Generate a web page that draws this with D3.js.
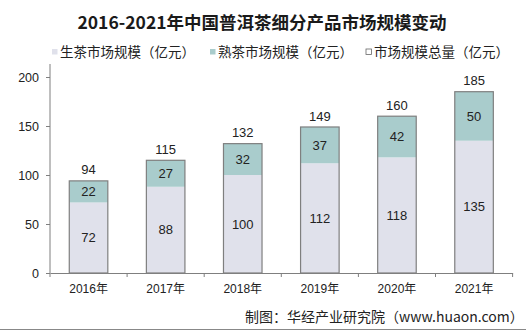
<!DOCTYPE html>
<html><head><meta charset="utf-8">
<script src="https://cdn.jsdelivr.net/npm/d3@7"></script>
<style>body{margin:0;background:#fff}svg{display:block}</style>
</head><body><svg id="c" width="526" height="330"></svg>
<script>
const categories = ["2016年","2017年","2018年","2019年","2020年","2021年"];
const raw = [72,88,100,112,118,135];
const ripe = [22,27,32,37,42,50];
const total = [94,115,132,149,160,185];
const yTicks = [0,50,100,150,200];
const legendNames = ["生茶市场规模（亿元）","熟茶市场规模（亿元）","市场规模总量（亿元）"];

const svg = d3.select("#c");
const W=526,H=330;
const fontSans = "Arial, 'Liberation Sans', 'Noto Sans CJK SC', sans-serif";
const x = d3.scaleBand().domain(categories).range([50,512.6]).paddingInner(0.5).paddingOuter(0.25);
const y = d3.scaleLinear().domain([0,200]).range([273,77]);
const c1="#e0e1eb", c2="#a9cccc", stroke="#7f7f7f";

svg.append("text").attr("x",262).attr("y",29).attr("text-anchor","middle")
  .attr("font-family","'Noto Sans CJK SC', serif").attr("font-weight","bold").attr("font-size",17.5)
  .attr("fill","#1a1a1a").text("2016-2021年中国普洱茶细分产品市场规模变动");

// legend
const leg = [{x:52,t:60,fill:c1,st:"none"},{x:210,t:218,fill:c2,st:"none"},{x:366,t:374,fill:"#fff",st:"#666"}];
leg.forEach((l,i)=>{
  svg.append("rect").attr("x",l.x).attr("y",49).attr("width",5.5).attr("height",5.5).attr("fill",l.fill).attr("stroke",l.st).attr("stroke-width",0.8);
  svg.append("text").attr("x",l.t).attr("y",57).attr("font-family","'Noto Sans CJK SC', sans-serif").attr("font-size",13.5).attr("fill","#222").text(legendNames[i]);
});

// y axis
const ya = svg.append("g").attr("transform","translate(50,0)")
  .call(d3.axisLeft(y).tickValues(yTicks).tickSize(4).tickPadding(7));
ya.select(".domain").remove();
ya.selectAll(".tick line").attr("stroke",stroke);
ya.selectAll("text").attr("font-family",fontSans).attr("font-size",12.5).attr("fill","#222");
svg.append("line").attr("x1",50).attr("x2",50).attr("y1",64).attr("y2",273).attr("stroke",stroke);

// x axis
const xa = svg.append("g").attr("transform","translate(0,273)")
  .call(d3.axisBottom(x).tickSize(0).tickPadding(11));
xa.select(".domain").attr("stroke",stroke);
xa.selectAll("text").attr("font-family",fontSans).attr("font-size",12).attr("fill","#222");
d3.range(7).forEach(i=>{
  const tx = 50 + i*(462.6/6);
  svg.append("line").attr("x1",tx).attr("x2",tx).attr("y1",273).attr("y2",277).attr("stroke",stroke);
});

// bars
const g = svg.append("g");
categories.forEach((c,i)=>{
  const bx=x(c), bw=x.bandwidth();
  g.append("rect").attr("x",bx).attr("y",y(raw[i])).attr("width",bw).attr("height",y(0)-y(raw[i])).attr("fill",c1);
  g.append("rect").attr("x",bx).attr("y",y(raw[i]+ripe[i])).attr("width",bw).attr("height",y(raw[i])-y(raw[i]+ripe[i])).attr("fill",c2);
  g.append("rect").attr("x",bx).attr("y",y(total[i])).attr("width",bw).attr("height",y(0)-y(total[i])).attr("fill","none").attr("stroke",stroke).attr("stroke-width",1.2);
  const cx=bx+bw/2;
  const lab=(v,yy)=>g.append("text").attr("x",cx).attr("y",yy).attr("text-anchor","middle").attr("dy","0.35em")
    .attr("font-family",fontSans).attr("font-size",13).attr("fill","#222").text(v);
  lab(raw[i],(y(0)+y(raw[i]))/2);
  lab(ripe[i],(y(raw[i])+y(raw[i]+ripe[i]))/2);
  lab(total[i],y(total[i])-11);
});

svg.append("text").attr("x",245).attr("y",322).attr("font-family","'Noto Sans CJK SC', sans-serif").attr("font-size",14).attr("fill","#222").text("制图：华经产业研究院（www.huaon.com）");
svg.append("line").attr("x1",0).attr("x2",W).attr("y1",329.5).attr("y2",329.5).attr("stroke","#888");
</script></body></html>
